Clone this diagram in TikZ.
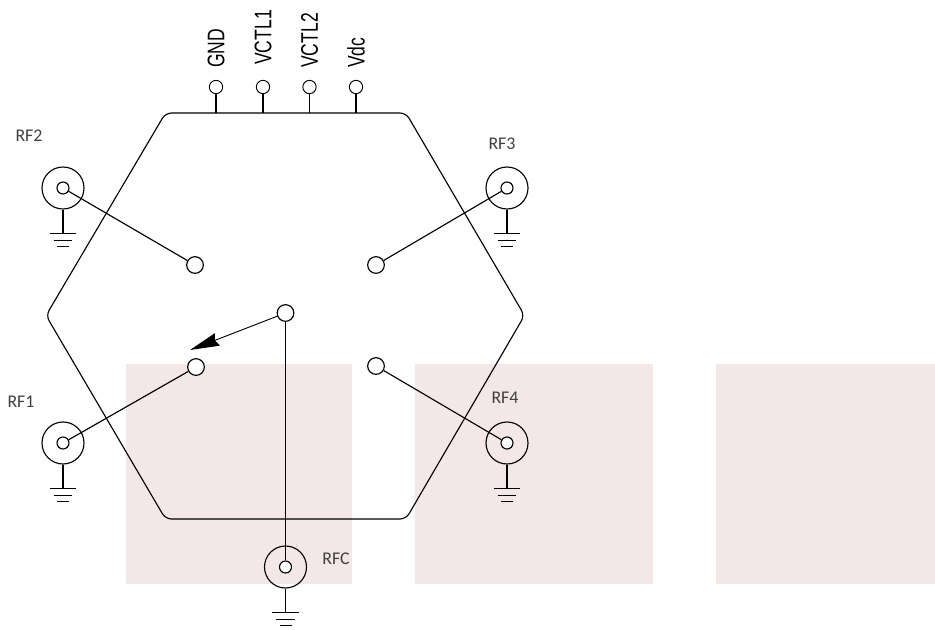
\documentclass[tikz,border=0pt]{standalone}
\usepackage{fontspec}
\setmainfont{Carlito}
\newfontfamily\pinfont{Liberation Sans}
\usetikzlibrary{arrows.meta}
\usetikzlibrary{calc}
\definecolor{blush}{HTML}{F4E7E7}
\definecolor{labelgray}{HTML}{404040}
\tikzset{wire/.style={line width=.85pt,black}}
\tikzset{contact/.style={circle,draw,wire,fill=white,inner sep=0pt,minimum size=12.5pt}}
\tikzset{coax/.style={circle,draw,wire,inner sep=0pt,minimum size=31.5pt}}
\tikzset{core/.style={circle,draw,wire,fill=white,inner sep=0pt,minimum size=9pt}}
\tikzset{pin/.style={circle,draw,line width=.7pt,fill=white,inner sep=0pt,minimum size=10pt}}
\tikzset{l/.style={font=\fontsize{13.4}{13.4}\selectfont,text=labelgray,inner sep=0pt}}
\tikzset{m/.style={rotate=90,anchor=west,inner sep=0pt,font=\pinfont\fontsize{18}{18}\selectfont}}
\begin{document}
\begin{tikzpicture}[x=0.75pt,y=-0.75pt]
        \useasboundingbox (0,0) rectangle (935,629);
        % shaded panels
        \fill [blush] (126,364) rectangle (352,584);
        \fill [blush] (415,364) rectangle (653,584);
        \fill [blush] (716,364) rectangle (935,584);
        % switch body
        \draw [wire,rounded corners=4.5pt] (165.5,113)--(406,113)--(524.5,315.5)--(406,519)--(165.5,519)--(46,315.5)--cycle;
        % ports
        \foreach \n/\x/\y in {A/63/443,B/63/188,C/507/188,D/507/443,E/285.5/567}
        {
          \node [coax] (O\n) at (\x,\y) {};
          \node [core] (P\n) at (\x,\y) {};
          \coordinate (G\n) at ($(O\n.south)+(0,-18pt)$);
          \draw [wire] (O\n.south)--(G\n);
          \draw [wire] ($(G\n)+(-10pt,0)$)--($(G\n)+(10pt,0)$);
          \draw [wire] ($(G\n)+(-7pt,-5pt)$)--($(G\n)+(7pt,-5pt)$);
          \draw [wire] ($(G\n)+(-4.5pt,-10pt)$)--($(G\n)+(4.5pt,-10pt)$);
        }
        % throws
        \node [contact] (TA) at (196,367) {};
        \node [contact] (TB) at (195,265) {};
        \node [contact] (TC) at (376,265) {};
        \node [contact] (TD) at (376,366) {};
        \node [contact] (H) at (285.5,313) {};
        \coordinate (W) at (190,350);
        \draw [wire] (PA)--(TA);
        \draw [wire] (PB)--(TB);
        \draw [wire] (PC)--(TC);
        \draw [wire] (PD)--(TD);
        \draw [wire] (PE)--(H);
        \draw [line width=.7pt,-{Stealth[length=22pt,width=10pt,inset=2pt]}] (H)--(W);
        % control pins
        \foreach \n/\x/\t/\b in {a/216/GND/68,b/263/VCTL1/65,c/309.5/VCTL2/68,d/356/Vdc/68}
        {
          \node [pin] (V\n) at (\x,87) {};
          \coordinate (S\n) at (\x,113);
          \draw [wire] (V\n)--(S\n);
          \node [m] (L\n) at (\x,\b) {\scalebox{.73}[1]{\t}};
        }
        % port names
        \node [l] (LA) at (21,402) {RF1};
        \node [l] (LB) at (29,136) {RF2};
        \node [l] (LC) at (502,144) {RF3};
        \node [l] (LD) at (505,398) {RF4};
        \node [l] (LE) at (336,559) {RFC};
      \end{tikzpicture}
\end{document}
